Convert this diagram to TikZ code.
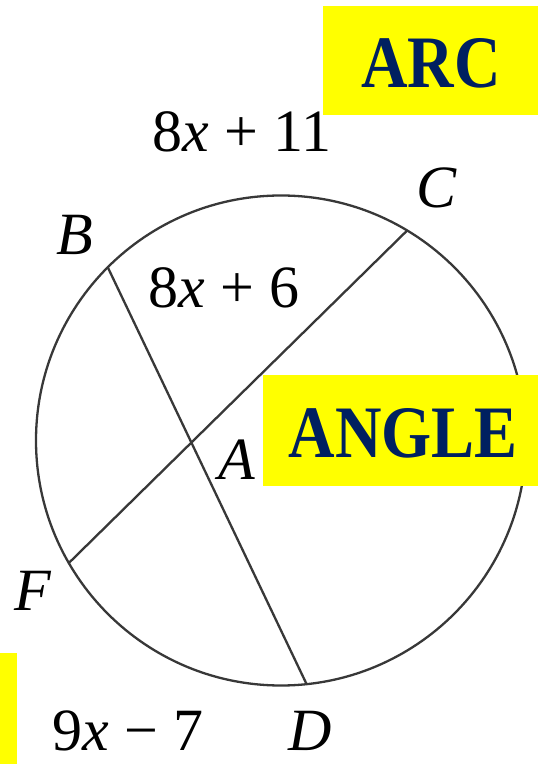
\documentclass[tikz,border=0pt]{standalone}
\usepackage{fontspec}
\setmainfont{Liberation Serif}
\definecolor{BoxYellow}{HTML}{FFFF00}
\definecolor{TagNavy}{HTML}{002060}
\definecolor{ChordGray}{gray}{0.22}

\begin{document}
\begin{tikzpicture}[x=1pt,y=1pt, every node/.style={font=\fontsize{60}{62}\selectfont, inner sep=0pt},
  tag/.style={text=TagNavy, font=\fontsize{74}{74}\selectfont\bfseries, xscale=0.87}]
  \useasboundingbox (0,0) rectangle (538,764);
  \coordinate (O) at (281,323.5);
  \draw[ChordGray, line width=2.3pt] (O) circle (245);
  \foreach \name/\ang in {B/135,C/59,F/210,D/276}
    \path (O) ++(\ang:245) coordinate (\name);
  \draw[ChordGray, line width=2.3pt] (B) -- (D);
  \draw[ChordGray, line width=2.3pt] (F) -- (C);
  % point labels
  \node (labB) at (75,529) {\textit{B}};
  \node (labC) at (437,576) {\textit{C}};
  \node (labA) at (237,304) {\textit{A}};
  \node (labF) at (33,173) {\textit{F}};
  \node (labD) at (310,33) {\textit{D}};
  % measures
  \node (arcBC) at (242,632) {8\textit{x} + 11};
  \node (angBAC) at (224,476) {8\textit{x} + 6};
  \node (arcFD) at (128,33) {9\textit{x} − 7};
  % highlight boxes
  \fill[BoxYellow] (323,758) rectangle (538,649);
  \node[tag] (arcTag) at (431,700.5) {ARC};
  \fill[BoxYellow] (263,389) rectangle (538,278);
  \node[tag] (angleTag) at (403,331) {ANGLE};
  \fill[BoxYellow] (0,0) rectangle (17,111);
\end{tikzpicture}
\end{document}
